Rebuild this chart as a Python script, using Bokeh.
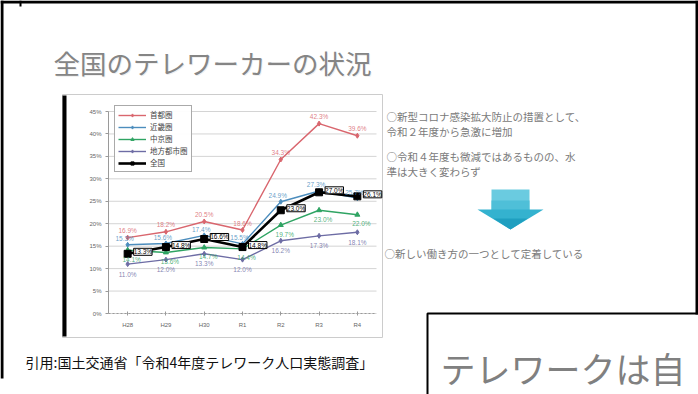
from bokeh.plotting import figure
from bokeh.models import (Range1d, ColumnDataSource, LabelSet, Label, LinearAxis,
                          BoxAnnotation, PolyAnnotation, Legend, LegendItem,
                          PrintfTickFormatter, FixedTicker)
from bokeh.core.properties import value
from bokeh.embed import file_html
from bokeh.resources import INLINE

# ---------------- data ----------------
years = ["H28", "H29", "H30", "R1", "R2", "R3", "R4"]
shutoken = [16.9, 18.2, 20.5, 18.6, 34.3, 42.3, 39.6]      # 首都圏
kinki = [15.3, 15.6, 17.4, 15.5, 24.9, 27.3, 25.7]         # 近畿圏
chukyo = [14.1, 13.6, 14.7, 14.4, 19.7, 23.0, 22.0]        # 中京圏
chiho = [11.0, 12.0, 13.3, 12.0, 16.2, 17.3, 18.1]         # 地方都市圏
zenkoku = [13.3, 14.8, 16.6, 14.8, 23.0, 27.0, 26.1]       # 全国
series_names = ["首都圏", "近畿圏", "中京圏", "地方都市圏", "全国"]
y_ticks = [0, 5, 10, 15, 20, 25, 30, 35, 40, 45]

# ---------------- layout ----------------
W, H = 698, 394
FL, FT, FR, FB = 108, 111, 376, 313   # chart plot area inside the slide (pixels)
JP = "Noto Sans CJK JP"

p = figure(width=W, height=H, x_range=Range1d(0, W), y_range=Range1d(H, 0),
           x_axis_type=None, y_axis_type=None,
           output_backend="svg", toolbar_location=None, min_border=0)
p.outline_line_color = None
p.background_fill_color = "white"
p.border_fill_color = "white"

# chart coordinate systems placed on the slide
n = len(years)
step = (FR - FL) / n
cx0 = -FL / step - 0.5
cx1 = (W - FL) / step - 0.5
vmax = y_ticks[-1]
k = (FB - FT) / vmax
cy0 = -(H - FB) / k
cy1 = FB / k
p.extra_x_ranges = {"cx": Range1d(cx0, cx1)}
p.extra_y_ranges = {"cy": Range1d(cy0, cy1)}
xi = list(range(n))

# ---------------- slide decorations ----------------
def box(l, t, r, b, fill=None, line=None, lw=1):
    p.add_layout(BoxAnnotation(left=l, right=r, top=t, bottom=b,
                               fill_color=fill if fill else "white",
                               fill_alpha=1 if fill else 0,
                               line_color=line if line else "white",
                               line_width=lw, line_alpha=1 if line else 0))


def text(x, y, s, size, color, align="left", baseline="middle", font=JP, alpha=1.0):
    p.add_layout(Label(x=x, y=y, text=s, text_font_size=f"{size}px", text_color=color,
                       text_align=align, text_baseline=baseline, text_font=font,
                       text_alpha=alpha))


def poly(xs, ys, color):
    p.add_layout(PolyAnnotation(xs=xs, ys=ys, fill_color=color, fill_alpha=1,
                                line_color=None))


# chart picture frame
box(62, 94, 382, 337, line="#cccccc", lw=1)
box(62, 95, 66, 336, fill="black")

# ---------------- chart ----------------
# gridlines
p.segment(x0=[-0.5] * len(y_ticks), x1=[n - 0.5] * len(y_ticks), y0=y_ticks, y1=y_ticks,
          line_color="#d4d4d4", line_width=1, x_range_name="cx", y_range_name="cy")

yaxis = LinearAxis(x_range_name="cx", y_range_name="cy", fixed_location=-0.5,
                   bounds=(0, vmax), ticker=FixedTicker(ticks=y_ticks),
                   formatter=PrintfTickFormatter(format="%d%%"))
yaxis.axis_line_color = "#9a9a9a"
yaxis.major_tick_line_color = "#9a9a9a"
yaxis.major_tick_in = 0
yaxis.major_tick_out = 3
yaxis.minor_tick_line_color = None
yaxis.major_label_text_font_size = "6px"
yaxis.major_label_text_color = "#666666"
yaxis.major_label_standoff = 4
p.add_layout(yaxis, "left")

xaxis = LinearAxis(x_range_name="cx", y_range_name="cy", fixed_location=0,
                   bounds=(-0.5, n - 0.5), ticker=FixedTicker(ticks=xi),
                   major_label_overrides={i: y for i, y in zip(xi, years)})
xaxis.axis_line_color = "#9a9a9a"
xaxis.axis_line_dash = "2 2"
xaxis.major_tick_line_color = "#9a9a9a"
xaxis.major_tick_in = 2
xaxis.major_tick_out = 2
xaxis.minor_tick_line_color = None
xaxis.major_label_text_font_size = "6px"
xaxis.major_label_text_color = "#666666"
xaxis.major_label_standoff = 6
p.add_layout(xaxis, "below")

colors = ["#d9666e", "#4c8dbd", "#2fa463", "#6d6ca4", "#000000"]
values = [shutoken, kinki, chukyo, chiho, zenkoku]
markers = ["diamond", "diamond", "triangle", "diamond", "square"]
widths = [1.4, 1.4, 1.4, 1.4, 2.6]
msizes = [5, 5, 5, 5, 7]
label_dy = [7, 6, -9, -10, 0]
label_dx = [0, -3, 4, 0, 6]

items = []
for name, vals, c, m, lw, ms, dy, dx in zip(series_names, values, colors, markers,
                                            widths, msizes, label_dy, label_dx):
    src = ColumnDataSource(dict(x=xi, y=vals, t=[f"{v:.1f}%" for v in vals]))
    lr = p.line("x", "y", source=src, line_color=c, line_width=lw,
                x_range_name="cx", y_range_name="cy")
    mr = p.scatter("x", "y", source=src, marker=m, size=ms, fill_color=c, line_color=c,
                   x_range_name="cx", y_range_name="cy")
    items.append(LegendItem(label=name, renderers=[lr, mr]))
    if name == "全国":
        ls = LabelSet(x="x", y="y", text="t", source=src, x_offset=dx, y_offset=2,
                      x_range_name="cx", y_range_name="cy",
                      text_font_size="6.5px", text_color="black", text_align="left",
                      text_baseline="middle", text_font=value("Liberation Sans"),
                      background_fill_color="white", border_line_color="black",
                      border_line_width=1)
    else:
        ls = LabelSet(x="x", y="y", text="t", source=src, x_offset=dx, y_offset=dy,
                      x_range_name="cx", y_range_name="cy",
                      text_font_size="6.5px", text_color=c, text_alpha=0.85,
                      text_align="center", text_baseline="middle",
                      text_font=value("Liberation Sans"))
    p.add_layout(ls)

legend = Legend(items=items, location=(114, H - 172), orientation="vertical",
                label_text_font=JP, label_text_font_size="7.5px",
                label_text_color="#444444", glyph_width=28, glyph_height=8,
                label_height=8, spacing=1, padding=3, margin=0,
                label_standoff=4, border_line_color="#555555", border_line_width=1,
                background_fill_color="white")
p.add_layout(legend)

# slide border
box(0, 0, 698, 3, fill="black")
box(0, 0, 3, 378, fill="black")
box(695, 0, 698, 314, fill="black")
box(19, 0, 21, 6, fill="black")

# title
text(54, 63, "全国のテレワーカーの状況", 26.5, "#8a8a8a", alpha=0.15)
text(53, 62, "全国のテレワーカーの状況", 26.5, "#858585")

# right text
tc = "#7a7a7a"
text(386, 116, "○新型コロナ感染拡大防止の措置として、", 10.5, tc)
text(386, 131, "令和２年度から急激に増加", 10.5, tc)
text(386, 156, "○令和４年度も微減ではあるものの、水", 10.5, tc)
text(386, 171, "準は大きく変わらず", 10.5, tc)
text(384, 253, "○新しい働き方の一つとして定着している", 10.5, tc)

# arrow
poly([491, 529, 529, 491], [189, 189, 210, 210], "#6acbe0")
poly([491, 529, 529, 491], [200, 200, 210, 210], "#4fbfd8")
poly([477, 543, 510], [209, 209, 229], "#34b2cf")
poly([493, 527, 510], [218, 218, 229], "#1f9fc0")

# caption
text(25, 361, "引用:国土交通省「令和4年度テレワーク人口実態調査」", 14, "#111111")

# next slide
box(427, 313, 700, 400, line="black", lw=2)
text(440, 367, "テレワークは自", 35, "#808080")

open("out.html", "w").write(file_html(p, INLINE))
